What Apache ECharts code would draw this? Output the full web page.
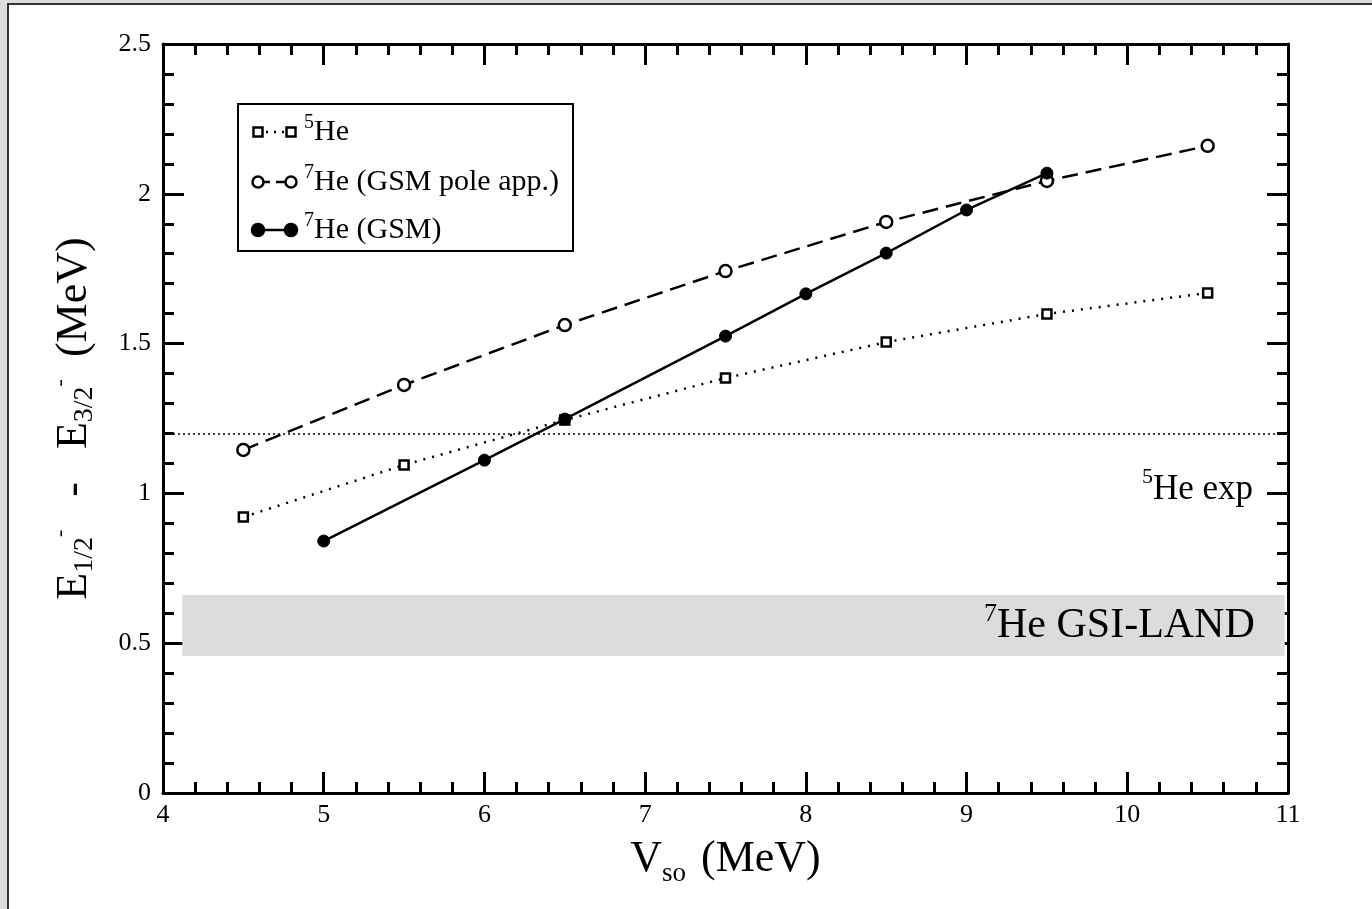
<!DOCTYPE html>
<html>
<head>
<meta charset="utf-8">
<script src="https://cdn.jsdelivr.net/npm/echarts@6/dist/echarts.min.js"></script>
<style>
  html, body { margin: 0; padding: 0; background: #dcdcdc; }
  #main { width: 1372px; height: 909px; }
</style>
</head>
<body>
<div id="main"></div>
<script>
// data
var he5X = [4.5, 5.5, 6.5, 7.5, 8.5, 9.5, 10.5];
var he5Y = [0.921, 1.095, 1.245, 1.385, 1.505, 1.599, 1.669];

var poleX = [4.5, 5.5, 6.5, 7.5, 8.5, 9.5, 10.5];
var poleY = [1.145, 1.362, 1.562, 1.742, 1.906, 2.043, 2.160];

var gsmX = [5, 6, 6.5, 7.5, 8, 8.5, 9, 9.5];
var gsmY = [0.841, 1.111, 1.248, 1.525, 1.666, 1.802, 1.946, 2.069];

var he5Exp = 1.2;               // 5He exp line
var landBand = [0.457, 0.661];  // 7He GSI-LAND band (y range)
var landBandX = [4.12, 10.98];

var xTicks = [4, 5, 6, 7, 8, 9, 10, 11];
var yTicks = [0, 0.5, 1, 1.5, 2, 2.5];

function pairs(xs, ys) {
    var arr = [];
    for (var i = 0; i < xs.length; i++) {
        arr.push([xs[i], ys[i]]);
    }
    return arr;
}

var font = '"Liberation Serif", "DejaVu Serif", serif';
var myChart = echarts.init(document.getElementById('main'));

function axisCommon(showLabel) {
    return {
        axisLine: { show: true, onZero: false, lineStyle: { color: '#000', width: 3 } },
        axisTick: { show: true, inside: true, length: 21, lineStyle: { color: '#000', width: 3 } },
        minorTick: { show: true, splitNumber: 5, length: 11, lineStyle: { color: '#000', width: 3 } },
        splitLine: { show: false },
        axisLabel: { show: showLabel, fontFamily: font, fontSize: 26, color: '#000' }
    };
}

var xBottom = axisCommon(true);
xBottom.type = 'value';
xBottom.min = xTicks[0];
xBottom.max = xTicks[xTicks.length - 1];
xBottom.interval = 1;
xBottom.axisLabel.margin = 9;
xBottom.name = '{v|V}{sub|so}{t| (MeV)}';
xBottom.nameLocation = 'middle';
xBottom.nameGap = 38;
xBottom.nameTextStyle = {
    fontFamily: font,
    rich: {
        v: { fontFamily: font, fontSize: 44, color: '#000', lineHeight: 56, verticalAlign: 'middle' },
        sub: { fontFamily: font, fontSize: 27, color: '#000', lineHeight: 18, verticalAlign: 'bottom', padding: [0, 4, 0, 0] },
        t: { fontFamily: font, fontSize: 44, color: '#000', lineHeight: 56, verticalAlign: 'middle' }
    }
};

var xTop = axisCommon(false);
xTop.type = 'value';
xTop.position = 'top';
xTop.min = xTicks[0];
xTop.max = xTicks[xTicks.length - 1];
xTop.interval = 1;

var yLeft = axisCommon(true);
yLeft.type = 'value';
yLeft.min = yTicks[0];
yLeft.max = yTicks[yTicks.length - 1];
yLeft.interval = 0.5;
yLeft.axisLabel.margin = 12;
yLeft.name = '{e|E}{sub|1/2}{sup|-}{t|   -   E}{sub|3/2}{sup|-}{t|  (MeV)}';
yLeft.nameLocation = 'middle';
yLeft.nameGap = 64;
yLeft.nameTextStyle = {
    fontFamily: font,
    rich: {
        e: { fontFamily: font, fontSize: 44, color: '#000', lineHeight: 50, verticalAlign: 'middle' },
        sub: { fontFamily: font, fontSize: 28, color: '#000', lineHeight: 22, verticalAlign: 'bottom' },
        sup: { fontFamily: font, fontSize: 22, color: '#000', lineHeight: 14, verticalAlign: 'top' },
        t: { fontFamily: font, fontSize: 44, color: '#000', lineHeight: 50, verticalAlign: 'middle' }
    }
};

var yRight = axisCommon(false);
yRight.type = 'value';
yRight.position = 'right';
yRight.min = yTicks[0];
yRight.max = yTicks[yTicks.length - 1];
yRight.interval = 0.5;

var supRich = {
    sup: { fontFamily: font, fontSize: 20, color: '#000', lineHeight: 16, verticalAlign: 'top' },
    t: { fontFamily: font, fontSize: 30, color: '#000', lineHeight: 38, verticalAlign: 'middle' }
};

// legend drawn by hand: symbol at both ends like the original
function legendRow(y, dash, symbol, label) {
    var items = [];
    items.push({
        type: 'line', z: 50,
        shape: { x1: 258, y1: y, x2: 291, y2: y },
        style: { stroke: '#000', lineWidth: 2.5, lineDash: dash }
    });
    [258, 291].forEach(function (cx) {
        if (symbol === 'rect') {
            items.push({ type: 'rect', z: 51, shape: { x: cx - 4.5, y: y - 4.5, width: 9, height: 9 },
                style: { fill: '#fff', stroke: '#000', lineWidth: 2.5 } });
        } else {
            items.push({ type: 'circle', z: 51, shape: { cx: cx, cy: y, r: symbol === 'filled' ? 6 : 5.5 },
                style: { fill: symbol === 'filled' ? '#000' : '#fff', stroke: '#000', lineWidth: 2.5 } });
        }
    });
    items.push({
        type: 'text', z: 51, left: 304, top: y - 19,
        style: { text: label, rich: supRich, fill: '#000' }
    });
    return items;
}

var graphics = [
    { type: 'rect', z: -100, shape: { x: 8, y: 4, width: 1400, height: 960 },
      style: { fill: '#fff', stroke: '#333', lineWidth: 2 } },
    { type: 'rect', z: 49, shape: { x: 238, y: 104, width: 335, height: 147 },
      style: { fill: '#fff', stroke: '#000', lineWidth: 2 } }
]
.concat(legendRow(132, [2, 6], 'rect', '{sup|5}{t|He}'))
.concat(legendRow(182, [12, 6], 'open', '{sup|7}{t|He (GSM pole app.)}'))
.concat(legendRow(230, null, 'filled', '{sup|7}{t|He (GSM)}'));

var option = {
    backgroundColor: '#dcdcdc',
    animation: false,
    grid: { left: 163, right: 84, top: 44, bottom: 116 },
    xAxis: [xBottom, xTop],
    yAxis: [yLeft, yRight],
    graphic: graphics,
    series: [
        {
            name: '5He',
            type: 'line',
            data: pairs(he5X, he5Y),
            symbol: 'rect',
            symbolSize: 9,
            z: 4,
            itemStyle: { color: '#fff', borderColor: '#000', borderWidth: 2.5 },
            lineStyle: { color: '#000', width: 2.5, type: [2, 7] },
            markLine: {
                silent: true,
                symbol: 'none',
                lineStyle: { color: '#000', width: 1.5, type: [2, 3] },
                label: {
                    show: true,
                    position: 'insideEndBottom',
                    formatter: '{sup|5}{t|He exp}',
                    padding: [28, 30, 0, 0],
                    rich: {
                        sup: { fontFamily: font, fontSize: 22, color: '#000', lineHeight: 18, verticalAlign: 'top' },
                        t: { fontFamily: font, fontSize: 35, color: '#000', lineHeight: 46, verticalAlign: 'middle' }
                    }
                },
                data: [{ yAxis: he5Exp }]
            },
            markArea: {
                silent: true,
                itemStyle: { color: '#dcdcdc' },
                label: {
                    show: true,
                    position: 'insideRight',
                    distance: 30,
                    formatter: '{sup|7}{t|He GSI-LAND}',
                    rich: {
                        sup: { fontFamily: font, fontSize: 26, color: '#000', lineHeight: 22, verticalAlign: 'top',
                               textShadowColor: '#fff', textShadowOffsetX: 2, textShadowOffsetY: 2 },
                        t: { fontFamily: font, fontSize: 42, color: '#000', lineHeight: 48, verticalAlign: 'middle',
                             textShadowColor: '#fff', textShadowOffsetX: 2, textShadowOffsetY: 2 }
                    }
                },
                data: [[
                    { coord: [landBandX[0], landBand[0]] },
                    { coord: [landBandX[1], landBand[1]] }
                ]]
            }
        },
        {
            name: '7He (GSM pole app.)',
            type: 'line',
            data: pairs(poleX, poleY),
            symbol: 'circle',
            symbolSize: 12,
            z: 5,
            itemStyle: { color: '#fff', borderColor: '#000', borderWidth: 2.5 },
            lineStyle: { color: '#000', width: 2.5, type: [16, 8] }
        },
        {
            name: '7He (GSM)',
            type: 'line',
            data: pairs(gsmX, gsmY),
            symbol: 'circle',
            symbolSize: 12,
            z: 6,
            itemStyle: { color: '#000', borderColor: '#000', borderWidth: 1 },
            lineStyle: { color: '#000', width: 2.5 }
        }
    ]
};

myChart.setOption(option);
</script>
</body>
</html>
